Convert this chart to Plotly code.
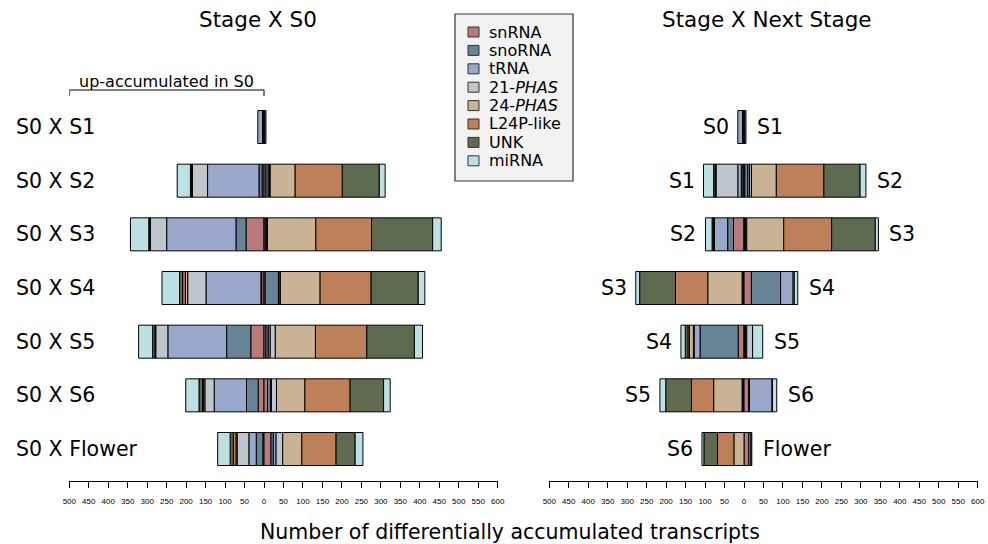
import plotly.graph_objects as go

# Transcript classes, stacked outward from zero in this order
categories = ["snRNA", "snoRNA", "tRNA", "21-PHAS", "24-PHAS", "L24P-like", "UNK", "miRNA"]
legend_labels = ["snRNA", "snoRNA", "tRNA", "21-<i>PHAS</i>", "24-<i>PHAS</i>", "L24P-like", "UNK", "miRNA"]
colors = ["#b87a7a", "#668496", "#9aa8cc", "#bfc6cc", "#c9b394", "#bd8058", "#5e6b50", "#bde0e4"]

# Left panel: each stage compared with S0
s0_rows = ["S0 X S1", "S0 X S2", "S0 X S3", "S0 X S4", "S0 X S5", "S0 X S6", "S0 X Flower"]
# up-accumulated in S0 (drawn to the left)
s0_up_first = {
    "snRNA":     [2, 5, 46, 6, 34, 15, 3],
    "snoRNA":    [2, 8, 26, 2, 62, 30, 17],
    "tRNA":      [12, 132, 178, 141, 151, 83, 19],
    "21-PHAS":   [0, 39, 42, 47, 31, 24, 30],
    "24-PHAS":   [0, 1, 1, 6, 1, 3, 3],
    "L24P-like": [0, 1, 1, 7, 1, 3, 7],
    "UNK":       [0, 3, 2, 8, 6, 9, 8],
    "miRNA":     [0, 34, 47, 45, 36, 34, 32],
}
# up-accumulated in the later stage (drawn to the right)
s0_up_second = {
    "snRNA":     [1, 5, 3, 3, 5, 9, 18],
    "snoRNA":    [1, 6, 3, 34, 6, 8, 6],
    "tRNA":      [3, 3, 2, 2, 5, 2, 7],
    "21-PHAS":   [0, 2, 1, 3, 13, 13, 17],
    "24-PHAS":   [0, 64, 124, 102, 103, 73, 49],
    "L24P-like": [0, 121, 143, 131, 132, 116, 88],
    "UNK":       [0, 95, 157, 121, 122, 86, 49],
    "miRNA":     [0, 15, 22, 17, 21, 17, 20],
}

# Right panel: each stage compared with the next one
next_left_labels = ["S0", "S1", "S2", "S3", "S4", "S5", "S6"]
next_right_labels = ["S1", "S2", "S3", "S4", "S5", "S6", "Flower"]
next_up_first = {
    "snRNA":     [2, 3, 27, 1, 15, 2, 0],
    "snoRNA":    [2, 4, 15, 1, 98, 1, 0],
    "tRNA":      [12, 9, 34, 1, 15, 1, 0],
    "21-PHAS":   [0, 56, 1, 2, 2, 1, 0],
    "24-PHAS":   [0, 1, 1, 88, 10, 73, 26],
    "L24P-like": [0, 1, 1, 83, 4, 57, 42],
    "UNK":       [0, 4, 3, 92, 7, 66, 35],
    "miRNA":     [0, 26, 17, 10, 11, 15, 5],
}
next_up_second = {
    "snRNA":     [1, 2, 1, 19, 2, 12, 12],
    "snoRNA":    [1, 8, 2, 75, 2, 2, 6],
    "tRNA":      [3, 4, 2, 32, 3, 58, 2],
    "21-PHAS":   [0, 5, 2, 3, 15, 1, 0],
    "24-PHAS":   [0, 64, 95, 0, 0, 0, 0],
    "L24P-like": [0, 122, 123, 0, 0, 0, 0],
    "UNK":       [0, 93, 112, 0, 0, 0, 0],
    "miRNA":     [0, 15, 8, 9, 26, 11, 0],
}

tick_vals = list(range(-500, 601, 50))
tick_text = [str(abs(v)) for v in tick_vals]

W, H = 988, 544
FONT = "DejaVu Sans"
BAR_W = 0.615
rows = list(range(len(s0_rows)))


def nz(vals, sign):
    return [sign * v if v else None for v in vals]


fig = go.Figure()

for xa, ya, first, second in [("x", "y", s0_up_first, s0_up_second),
                              ("x2", "y2", next_up_first, next_up_second)]:
    for cat, col in zip(categories, colors):
        for data, sign in [(first, -1), (second, 1)]:
            fig.add_trace(go.Bar(
                x=nz(data[cat], sign), y=rows, orientation="h", width=BAR_W,
                marker=dict(color=col, line=dict(color="black", width=1)),
                xaxis=xa, yaxis=ya, showlegend=False, hoverinfo="skip",
            ))

axis_y_px = 481
xaxis_common = dict(
    range=[-500, 600], anchor="free", position=1 - axis_y_px / H,
    showline=True, linecolor="black", linewidth=1,
    ticks="outside", ticklen=6, tickwidth=1, tickcolor="black",
    tickvals=tick_vals, ticktext=tick_text, ticklabelstandoff=6,
    tickfont=dict(family="Liberation Sans", size=8, color="black"),
    showgrid=False, zeroline=False, fixedrange=True, automargin=False,
)
yaxis_common = dict(range=[7.770, -2.3665], domain=[0, 1], visible=False,
                    fixedrange=True, automargin=False)

fig.update_layout(
    width=W, height=H, margin=dict(l=0, r=0, t=0, b=0, pad=0, autoexpand=False),
    paper_bgcolor="white", plot_bgcolor="rgba(0,0,0,0)",
    barmode="relative", showlegend=False,
    font=dict(family=FONT, color="black"),
    xaxis=dict(domain=[69.3 / W, 497.7 / W], **xaxis_common),
    xaxis2=dict(domain=[549.3 / W, 977.7 / W], **xaxis_common),
    yaxis=dict(anchor="free", position=0, **yaxis_common),
    yaxis2=dict(anchor="free", position=0, **yaxis_common),
)

ann = []
shapes = []
LABEL = 20.5

# Row labels for the left panel
for i, lab in enumerate(s0_rows):
    ann.append(dict(text=lab, xref="paper", yref="y", x=14 / W, y=i, xanchor="left",
                    yanchor="middle", showarrow=False, font=dict(size=LABEL)))

# Stage labels at both ends of each bar in the right panel
for i in rows:
    left_total = sum(next_up_first[c][i] for c in categories)
    right_total = sum(next_up_second[c][i] for c in categories)
    ann.append(dict(text=next_left_labels[i], xref="x2", yref="y2", x=-left_total, y=i,
                    xanchor="right", yanchor="middle", xshift=-7, showarrow=False,
                    font=dict(size=LABEL)))
    ann.append(dict(text=next_right_labels[i], xref="x2", yref="y2", x=right_total, y=i,
                    xanchor="left", yanchor="middle", xshift=9, showarrow=False,
                    font=dict(size=LABEL)))

# Panel titles and the shared axis title
ann.append(dict(text="Stage X S0", xref="paper", yref="paper", x=258 / W, y=1 - 20 / H,
                xanchor="center", yanchor="middle", showarrow=False, font=dict(size=21.5)))
ann.append(dict(text="Stage X Next Stage", xref="paper", yref="paper", x=767 / W, y=1 - 20 / H,
                xanchor="center", yanchor="middle", showarrow=False, font=dict(size=21.5)))
ann.append(dict(text="Number of differentially accumulated transcripts", xref="paper",
                yref="paper", x=510 / W, y=1 - 532 / H, xanchor="center", yanchor="middle",
                showarrow=False, font=dict(size=LABEL)))

# Bracket marking the S0 side of the left panel
br_y = 1 - 90 / H
shapes.append(dict(type="line", xref="x", yref="paper", x0=-500, x1=0, y0=br_y, y1=br_y,
                   line=dict(color="black", width=1)))
for xv in (-500, 0):
    shapes.append(dict(type="line", xref="x", yref="paper", x0=xv, x1=xv, y0=br_y,
                       y1=br_y - 6 / H, line=dict(color="black", width=1)))
ann.append(dict(text="up-accumulated in S0", xref="x", yref="paper", x=-250, y=1 - 81 / H,
                xanchor="center", yanchor="middle", showarrow=False, font=dict(size=16)))

# Legend box
lx0, ly0, lx1, ly1 = 455, 14, 573, 181
shapes.append(dict(type="rect", xref="paper", yref="paper", x0=lx0 / W, x1=lx1 / W,
                   y0=1 - ly1 / H, y1=1 - ly0 / H, fillcolor="#f2f2f2",
                   line=dict(color="#333333", width=1.2)))
for k, (lab, col) in enumerate(zip(legend_labels, colors)):
    cy = 32 + k * 18.4
    shapes.append(dict(type="rect", xref="paper", yref="paper", x0=468 / W, x1=479 / W,
                       y0=1 - (cy + 5) / H, y1=1 - (cy - 5) / H, fillcolor=col,
                       line=dict(color="#333333", width=1)))
    ann.append(dict(text=lab, xref="paper", yref="paper", x=487 / W, y=1 - cy / H,
                    xanchor="left", yanchor="middle", showarrow=False, font=dict(size=16)))

fig.update_layout(annotations=ann, shapes=shapes)
fig.write_html("out.html")
